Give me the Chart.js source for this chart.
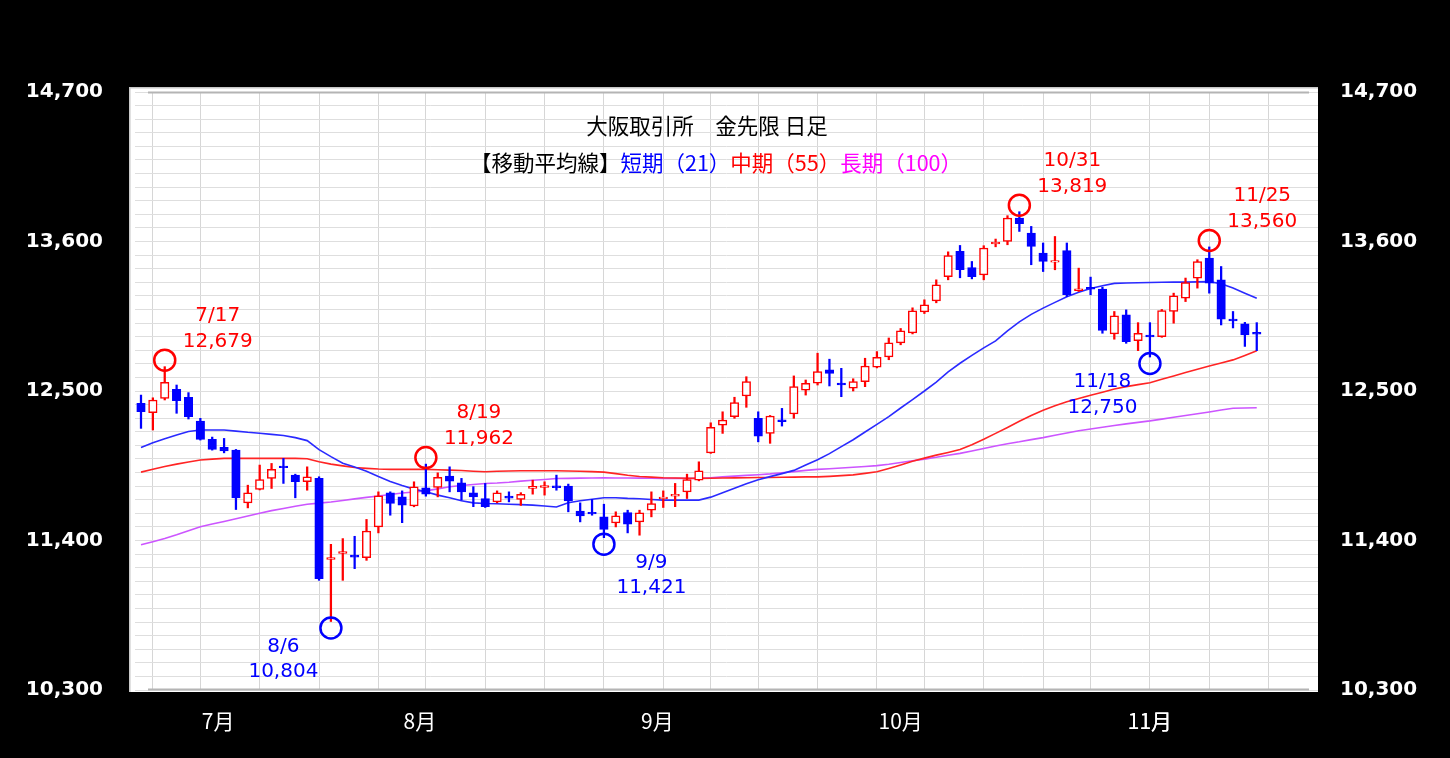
<!DOCTYPE html>
<html>
<head>
<meta charset="utf-8">
<script src="https://cdn.jsdelivr.net/npm/chart.js@4.4.1/dist/chart.umd.min.js"></script>
<style>
  html, body { margin: 0; padding: 0; background: #000; }
</style>
</head>
<body>
<canvas id="chart" width="1450" height="758"></canvas>
<script>
// trading days, 2024
var dates = [
  '7/12','7/16','7/17','7/18','7/19','7/22','7/23','7/24','7/25','7/26','7/29','7/30','7/31',
  '8/1','8/2','8/5','8/6','8/7','8/8','8/9','8/13','8/14','8/15','8/16','8/19','8/20','8/21','8/22','8/23','8/26','8/27','8/28','8/29','8/30',
  '9/2','9/3','9/4','9/5','9/6','9/9','9/10','9/11','9/12','9/13','9/17','9/18','9/19','9/20','9/24','9/25','9/26','9/27','9/30',
  '10/1','10/2','10/3','10/4','10/7','10/8','10/9','10/10','10/11','10/15','10/16','10/17','10/18','10/21','10/22','10/23','10/24','10/25','10/28','10/29','10/30','10/31',
  '11/1','11/5','11/6','11/7','11/8','11/11','11/12','11/13','11/14','11/15','11/18','11/19','11/20','11/21','11/22','11/25','11/26','11/27','11/28','11/29'
];
var year = 2024;

var openData = [
  12409,12340,12446,12513,12454,12279,12144,12085,12065,11677,
  11776,11857,11948,11881,11833,11857,11260,11305,11292,11274,
  11500,11751,11721,11655,11787,11790,11874,11824,11751,11709,
  11684,11726,11702,11784,11790,11802,11800,11616,11608,11574,
  11529,11606,11537,11623,11707,11727,11758,11844,12045,12249,
  12311,12463,12299,12188,12288,12331,12507,12557,12655,12558,
  12520,12569,12675,12751,12854,12928,13082,13163,13342,13527,
  13409,13355,13582,13600,13773,13662,13515,13447,13534,13238,
  13262,13250,12920,13060,12871,12912,12900,13085,13183,13331,
  13478,13318,13030,12994,12932
];
var highData = [
  12470,12450,12679,12544,12488,12299,12161,12151,12070,11807,
  11955,11967,12004,11888,11942,11869,11372,11414,11431,11555,
  11758,11758,11765,11832,11962,11898,11942,11857,11796,11820,
  11765,11758,11752,11844,11832,11881,11815,11677,11702,11667,
  11611,11623,11623,11758,11765,11820,11888,11979,12266,12347,
  12454,12605,12347,12320,12372,12611,12581,12778,12734,12667,
  12590,12741,12790,12890,12960,13112,13171,13318,13524,13571,
  13453,13569,13618,13790,13819,13711,13589,13637,13589,13404,
  13338,13264,13085,13097,13003,13003,13100,13220,13331,13466,
  13560,13416,13085,13005,13003
];
var lowData = [
  12225,12213,12434,12336,12294,12139,12065,12045,11628,11640,
  11772,11783,11820,11714,11770,11107,10804,11107,11193,11254,
  11456,11586,11531,11648,11726,11721,11758,11697,11649,11643,
  11677,11684,11658,11741,11734,11770,11611,11537,11586,11421,
  11500,11456,11439,11574,11643,11649,11709,11839,12041,12188,
  12299,12380,12126,12115,12242,12299,12470,12544,12537,12458,
  12500,12532,12670,12730,12840,12920,13070,13149,13318,13333,
  13325,13318,13561,13576,13674,13429,13379,13392,13195,13232,
  13208,12925,12881,12851,12797,12750,12895,12999,13158,13257,
  13220,12986,12964,12828,12797
];
var closeData = [
  12347,12434,12564,12429,12311,12144,12070,12060,11714,11751,
  11849,11923,11935,11833,11869,11120,11275,11318,11278,11470,
  11728,11672,11660,11795,11741,11864,11837,11758,11721,11649,
  11751,11712,11740,11798,11804,11788,11692,11581,11595,11481,
  11581,11520,11603,11672,11720,11740,11849,11913,12232,12286,
  12414,12569,12168,12316,12275,12532,12557,12642,12630,12545,
  12569,12684,12748,12854,12942,13090,13134,13281,13497,13392,
  13342,13552,13596,13773,13731,13564,13453,13460,13208,13252,
  13250,12945,13053,12863,12925,12898,13092,13200,13298,13453,
  13294,13028,13016,12913,12918
];

// moving averages
var maPeriods = [21, 55, 100];
var maShort = [
  12084,12119,12148,12177,12202,12213,12213,12213,12205,12196,
  12189,12181,12172,12157,12135,12069,12017,11969,11940,11910,
  11871,11835,11804,11778,11758,11734,11714,11693,11677,11672,
  11670,11667,11664,11660,11654,11647,11678,11693,11704,11715,
  11715,11710,11707,11702,11697,11697,11697,11697,11719,11752,
  11785,11818,11847,11870,11892,11916,11955,11994,12039,12091,
  12141,12198,12255,12312,12375,12437,12500,12566,12640,12704,
  12762,12817,12869,12942,13009,13064,13110,13152,13194,13226,
  13254,13275,13292,13295,13296,13298,13300,13301,13301,13303,
  13305,13289,13257,13220,13183
];
var maMid = [
  11903,11924,11945,11962,11977,11992,11999,12004,12004,12004,
  12004,12004,12004,12004,12002,11980,11962,11949,11937,11931,
  11926,11923,11923,11923,11923,11921,11918,11915,11910,11906,
  11909,11911,11913,11913,11913,11913,11911,11909,11907,11903,
  11892,11880,11871,11866,11862,11860,11858,11857,11858,11860,
  11861,11862,11863,11864,11865,11866,11868,11868,11872,11877,
  11883,11894,11906,11930,11956,11983,12006,12028,12048,12070,
  12105,12145,12188,12232,12278,12320,12358,12391,12421,12445,
  12468,12491,12515,12532,12547,12561,12586,12611,12636,12660,
  12684,12706,12729,12762,12797
];
var maLong = [
  11368,11391,11415,11442,11472,11501,11521,11540,11560,11580,
  11600,11620,11636,11652,11667,11675,11683,11694,11706,11717,
  11728,11739,11750,11757,11765,11780,11795,11805,11812,11819,
  11823,11829,11837,11843,11849,11856,11857,11859,11860,11861,
  11860,11860,11859,11858,11857,11857,11857,11857,11862,11868,
  11874,11879,11884,11890,11899,11907,11916,11923,11928,11933,
  11939,11945,11951,11961,11974,11987,11999,12012,12027,12041,
  12059,12077,12095,12112,12126,12142,12157,12174,12191,12207,
  12221,12233,12246,12258,12269,12280,12293,12307,12320,12333,
  12346,12360,12373,12375,12377
];

var yLabels = [10300, 11400, 12500, 13600, 14700];

// highs and lows marked on the chart
var markDates = ['7/17', '8/6', '8/19', '9/9', '10/31', '11/18', '11/25'];
var markValue = [12679, 10804, 11962, 11421, 13819, 12750, 13560];
var markKind = ['high', 'low', 'high', 'low', 'high', 'low', 'high'];

var upColor = '#ff0000', downColor = '#0000ff';
var isUp = closeData.map(function (c, i) { return c >= openData[i]; });

function points(values) {
  return values.map(function (v, i) { return { x: i, y: v }; });
}
function parseDay(s) {
  var p = s.split('/');
  return new Date(year, +p[0] - 1, +p[1]);
}

// weekly grid lines: first trading day of each week (plus the next week after the last day)
var weekTicks = [];
dates.forEach(function (d, i) {
  if (i > 0 && parseDay(d).getDay() < parseDay(dates[i - 1]).getDay()) weekTicks.push(i);
});
weekTicks.push(dates.length);

// month labels centred on each month's span
var monthTicks = {};
(function () {
  var start = 0;
  for (var i = 1; i <= dates.length; i++) {
    var m = dates[start].split('/')[0];
    if (i === dates.length || dates[i].split('/')[0] !== m) {
      monthTicks[(start + i) / 2] = m + '月';
      start = i;
    }
  }
})();

var xTickValues = weekTicks.concat(Object.keys(monthTicks).map(Number))
  .sort(function (a, b) { return a - b; });

function yTickLabel(v) {
  var r = Math.round(v);
  return yLabels.indexOf(r) >= 0 ? r.toLocaleString('en-US') : '';
}

var tickFont = { family: "'DejaVu Sans', sans-serif", size: 20, weight: 'bold' };

var backdrop = {
  id: 'backdrop',
  beforeDraw: function (chart) {
    var ctx = chart.ctx, a = chart.chartArea;
    ctx.save();
    ctx.fillStyle = '#000';
    ctx.fillRect(0, 0, chart.width, chart.height);
    ctx.fillStyle = '#fff';
    ctx.fillRect(a.left - 6, a.top - 5, a.right - a.left + 6, a.bottom - a.top + 7);
    ctx.strokeStyle = '#c8c8c8';
    ctx.lineWidth = 1.5;
    ctx.beginPath();
    ctx.moveTo(a.left - 5.2, a.bottom + 2);
    ctx.lineTo(a.left - 5.2, a.top - 4.2);
    ctx.lineTo(a.right, a.top - 4.2);
    ctx.stroke();
    ctx.restore();
  }
};

var marks = {
  id: 'marks',
  afterDatasetsDraw: function (chart) {
    var ctx = chart.ctx, a = chart.chartArea;
    var xs = chart.scales.x, ys = chart.scales.y;
    ctx.save();

    // darker frame lines top and bottom
    ctx.strokeStyle = '#b4b4b4';
    ctx.lineWidth = 2;
    ctx.beginPath();
    ctx.moveTo(a.left + 13, a.top + 0.5); ctx.lineTo(a.right - 9, a.top + 0.5);
    ctx.moveTo(a.left + 13, a.bottom - 0.5); ctx.lineTo(a.right - 9, a.bottom - 0.5);
    ctx.stroke();

    // circles and labels
    var labelSide = [1, -1, 1, 1, 1, -1, 1];
    ctx.font = "20px 'DejaVu Sans', sans-serif";
    ctx.textAlign = 'center';
    ctx.textBaseline = 'middle';
    markDates.forEach(function (d, k) {
      var i = dates.indexOf(d);
      var high = markKind[k] === 'high';
      var px = xs.getPixelForValue(i), py = ys.getPixelForValue(markValue[k]);
      var color = high ? '#ff0000' : '#0000ff';
      ctx.strokeStyle = color;
      ctx.lineWidth = 2.5;
      ctx.beginPath();
      ctx.arc(px, py + (high ? -6.5 : 6.5), 10.5, 0, Math.PI * 2);
      ctx.stroke();
      ctx.fillStyle = color;
      var tx = px + (high ? 53 : 47.5) * labelSide[k];
      ctx.fillText(d, tx, py + (high ? -51 : 25));
      ctx.fillText(markValue[k].toLocaleString('en-US'), tx, py + (high ? -25 : 50.5));
    });

    // titles
    ctx.font = "21.5px 'Noto Sans CJK JP', sans-serif";
    ctx.fillStyle = '#000';
    ctx.fillText('大阪取引所　金先限 日足', 707, 126);
    var parts = [
      ['【移動平均線】', '#000000'],
      ['短期（' + maPeriods[0] + '）', '#0000ff'],
      ['中期（' + maPeriods[1] + '）', '#ff0000'],
      ['長期（' + maPeriods[2] + '）', '#ff00ff']
    ];
    var total = 0;
    parts.forEach(function (p) { total += ctx.measureText(p[0]).width; });
    var sx = 716 - total / 2;
    ctx.textAlign = 'left';
    parts.forEach(function (p) {
      ctx.fillStyle = p[1];
      ctx.fillText(p[0], sx, 163);
      sx += ctx.measureText(p[0]).width;
    });
    ctx.restore();
  }
};

new Chart(document.getElementById('chart').getContext('2d'), {
  type: 'bar',
  data: {
    datasets: [
      { type: 'line', label: '短期', data: points(maShort), borderColor: '#2a2aff', borderWidth: 1.6, pointRadius: 0, order: 5 },
      { type: 'line', label: '中期', data: points(maMid), borderColor: '#ff2424', borderWidth: 1.6, pointRadius: 0, order: 5 },
      { type: 'line', label: '長期', data: points(maLong), borderColor: '#cc55ff', borderWidth: 1.6, pointRadius: 0, order: 5 },
      {
        label: 'wick',
        data: dates.map(function (d, i) { return { x: i, y: [lowData[i], highData[i]] }; }),
        backgroundColor: isUp.map(function (u) { return u ? upColor : downColor; }),
        barThickness: 1.6,
        grouped: false,
        order: 3
      },
      {
        label: 'body',
        data: dates.map(function (d, i) { return { x: i, y: [openData[i], closeData[i]] }; }),
        backgroundColor: isUp.map(function (u) { return u ? '#ffffff' : downColor; }),
        borderColor: isUp.map(function (u) { return u ? upColor : downColor; }),
        borderWidth: 1.5,
        borderSkipped: false,
        barThickness: 8.5,
        grouped: false,
        order: 2
      }
    ]
  },
  options: {
    responsive: false,
    animation: false,
    events: [],
    layout: { padding: { top: 92, left: 0, right: 0, bottom: 0 } },
    plugins: { legend: { display: false }, tooltip: { enabled: false } },
    scales: {
      x: {
        type: 'linear',
        min: -0.505,
        max: 99.16,
        offset: false,
        afterBuildTicks: function (scale) {
          scale.ticks = xTickValues.map(function (v) { return { value: v }; });
        },
        afterFit: function (scale) { scale.height = 68; },
        grid: {
          offset: false,
          drawTicks: false,
          lineWidth: 1,
          color: function (ctx) {
            return ctx.tick && weekTicks.indexOf(ctx.tick.value) >= 0 ? '#d6d6d6' : 'rgba(0,0,0,0)';
          }
        },
        border: { display: false },
        ticks: {
          autoSkip: false,
          maxRotation: 0,
          padding: 18,
          color: '#ffffff',
          font: { family: "'Noto Sans CJK JP', sans-serif", size: 21 },
          callback: function (v) { return monthTicks[v] || ''; }
        }
      },
      y: {
        type: 'linear',
        position: 'left',
        min: 10300,
        max: 14700,
        afterFit: function (scale) { scale.width = 135; },
        grid: { color: '#dedede', lineWidth: 1, drawTicks: false },
        border: { display: false },
        ticks: { stepSize: 100, autoSkip: false, padding: 32, color: '#ffffff', font: tickFont, callback: yTickLabel }
      },
      y2: {
        type: 'linear',
        position: 'right',
        min: 10300,
        max: 14700,
        afterFit: function (scale) { scale.width = 132; },
        grid: { display: false, drawTicks: false },
        border: { display: false },
        ticks: { stepSize: 100, autoSkip: false, padding: 22, color: '#ffffff', font: tickFont, callback: yTickLabel }
      }
    }
  },
  plugins: [backdrop, marks]
});
</script>
</body>
</html>
